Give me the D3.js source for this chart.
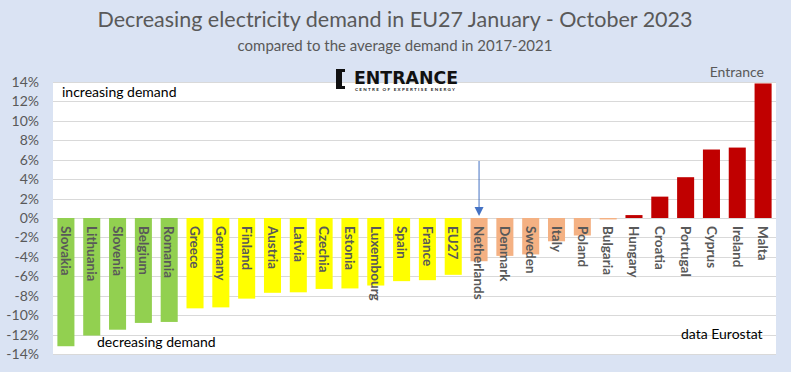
<!DOCTYPE html>
<html><head><meta charset="utf-8">
<script src="https://cdn.jsdelivr.net/npm/d3@7"></script>
<style>body{margin:0;background:#DAE3F3;}svg{display:block;font-family:Lato,"Open Sans",sans-serif;}</style>
</head><body><svg id="c" width="791" height="372"></svg>
<script>
const countries = ["Slovakia","Lithuania","Slovenia","Belgium","Romania","Greece","Germany","Finland","Austria","Latvia","Czechia","Estonia","Luxembourg","Spain","France","EU27","Netherlands","Denmark","Sweden","Italy","Poland","Bulgaria","Hungary","Croatia","Portugal","Cyprus","Ireland","Malta"];
const values = [-13.2,-12.1,-11.5,-10.8,-10.7,-9.3,-9.2,-8.3,-7.7,-7.65,-7.3,-7.25,-6.95,-6.5,-6.4,-5.85,-4.45,-3.9,-3.75,-2.4,-1.8,-0.15,0.3,2.2,4.2,7.05,7.25,13.85];
const groups = ["green","green","green","green","green","yellow","yellow","yellow","yellow","yellow","yellow","yellow","yellow","yellow","yellow","yellow","salmon","salmon","salmon","salmon","salmon","salmon","red","red","red","red","red","red"];
const yTicks = [-14,-12,-10,-8,-6,-4,-2,0,2,4,6,8,10,12,14];
const colors = {green:"#92D050",yellow:"#FFFF00",salmon:"#F4B183",red:"#C00000"};

const svg = d3.select("#c");
const L=53,R=776,T=82,B=354;
const x = d3.scaleBand().domain(countries).range([L,R]).paddingInner(0.34).paddingOuter(0.17);
const y = d3.scaleLinear().domain([-14,14]).range([B,T]);

svg.append("rect").attr("x",L).attr("y",T).attr("width",R-L).attr("height",B-T).attr("fill","#fff");

svg.append("g").selectAll("line").data(yTicks).join("line")
 .attr("x1",L).attr("x2",R).attr("y1",d=>Math.round(y(d))+0.5).attr("y2",d=>Math.round(y(d))+0.5)
 .attr("stroke","#D9D9D9").attr("stroke-width",1);

const yAxis = d3.axisLeft(y).tickValues(yTicks).tickFormat(d=>d+"%").tickSize(0).tickPadding(0);
const ga = svg.append("g").attr("transform",`translate(39,0)`).call(yAxis);
ga.select(".domain").remove();
ga.selectAll("text").attr("fill","#595959").style("font-size","14px").style("font-family","Lato,'Open Sans',sans-serif");

svg.append("g").selectAll("rect").data(countries).join("rect")
 .attr("x",d=>x(d)).attr("width",x.bandwidth())
 .attr("y",(d,i)=>y(Math.max(0,values[i]))).attr("height",(d,i)=>Math.abs(y(values[i])-y(0)))
 .attr("fill",(d,i)=>colors[groups[i]]);

svg.append("g").selectAll("text").data(countries).join("text")
 .attr("transform",d=>`translate(${x(d)+x.bandwidth()/2},${y(0)+8}) rotate(90)`)
 .attr("dy","0.35em").attr("fill","#595959").style("font-size","13.5px").style("font-weight","bold")
 .text(d=>d);

// arrow to Netherlands
const ax = x("Netherlands")+x.bandwidth()/2;
svg.append("line").attr("x1",ax).attr("x2",ax).attr("y1",161).attr("y2",208).attr("stroke","#4472C4").attr("stroke-width",1);
svg.append("path").attr("d",`M${ax-4.5},${207}L${ax+4.5},${207}L${ax},${216}Z`).attr("fill","#4472C4");

// titles
svg.append("text").attr("x",395).attr("y",27).attr("text-anchor","middle").attr("fill","#595959").style("font-size","21.5px").text("Decreasing electricity demand in EU27 January - October 2023");
svg.append("text").attr("x",395).attr("y",51).attr("text-anchor","middle").attr("fill","#595959").style("font-size","15px").text("compared to the average demand in 2017-2021");
svg.append("text").attr("x",764).attr("y",77).attr("text-anchor","end").attr("fill","#595959").style("font-size","14px").text("Entrance");
svg.append("text").attr("x",62).attr("y",97).attr("fill","#000").style("font-size","14px").text("increasing demand");
svg.append("text").attr("x",97).attr("y",347).attr("fill","#000").style("font-size","14px").text("decreasing demand");
svg.append("text").attr("x",681).attr("y",339).attr("fill","#000").style("font-size","14px").text("data Eurostat");

// logo
const lg = svg.append("g");
lg.append("path").attr("d","M336,69 L345,69 L345,72 L342,72 L342,86 L345,86 L345,89 L336,89 Z M336,69 L338,71 L338,87 L336,89Z").attr("fill","#111");
lg.append("text").attr("x",354).attr("y",84).attr("fill","#111").style("font-family","'DejaVu Sans',sans-serif").style("font-size","17px").style("font-weight","bold").attr("textLength",104).attr("lengthAdjust","spacingAndGlyphs").text("ENTRANCE");
lg.append("text").attr("x",355).attr("y",91).attr("fill","#222").style("font-size","4.5px").style("font-weight","bold").attr("textLength",100).text("CENTRE OF EXPERTISE ENERGY");
</script></body></html>
